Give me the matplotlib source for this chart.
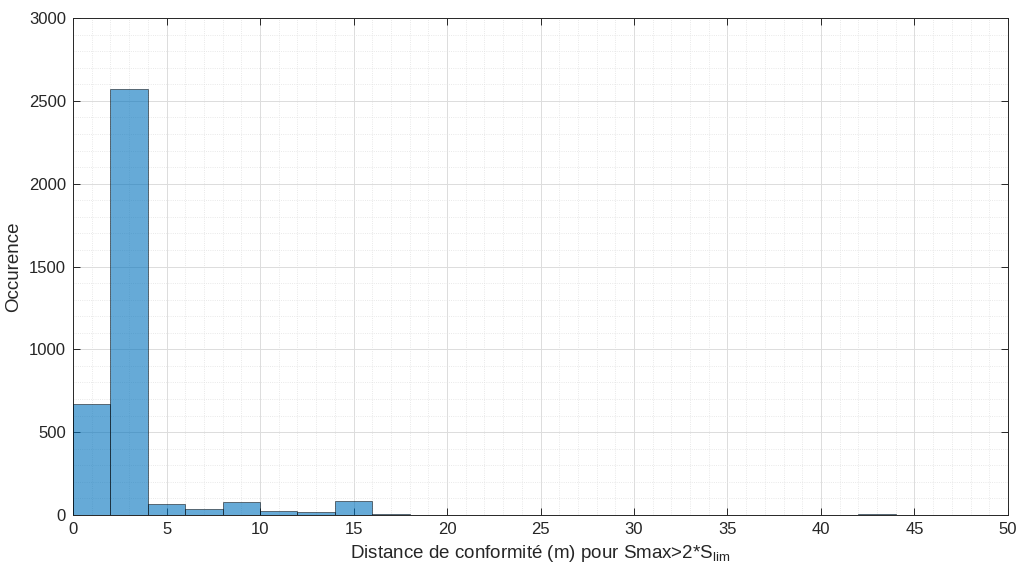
import matplotlib.pyplot as plt
import numpy as np
from matplotlib.ticker import MultipleLocator

# histogram counts, bin width 2 from 0 to 50
bin_edges = np.arange(0, 52, 2)
counts = [670, 2572, 66, 36, 77, 22, 20, 86, 9, 0, 0, 0, 0, 3, 3,
          0, 0, 0, 0, 0, 0, 5, 0, 0, 0]

plt.rcParams['font.family'] = 'Liberation Sans'
plt.rcParams['mathtext.fontset'] = 'custom'
plt.rcParams['mathtext.rm'] = 'Liberation Sans'
plt.rcParams['mathtext.it'] = 'Liberation Sans'

dark = '#262626'

fig = plt.figure(figsize=(10.23, 5.71), dpi=100)
ax = fig.add_axes([0.0714, 0.098, 0.9139, 0.8705])

ax.bar(bin_edges[:-1], counts, width=2, align='edge',
       color=(0, 0.447, 0.741, 0.6), edgecolor=(0, 0, 0, 0.6), linewidth=0.6,
       zorder=3)

ax.set_xlim(0, 50)
ax.set_ylim(0, 3000)
ax.xaxis.set_major_locator(MultipleLocator(5))
ax.xaxis.set_minor_locator(MultipleLocator(1))
ax.yaxis.set_major_locator(MultipleLocator(500))
ax.yaxis.set_minor_locator(MultipleLocator(100))

ax.grid(True, which='major', color='#dcdcdc', linewidth=0.7, zorder=0)
ax.grid(True, which='minor', color='#e2e2e2', linewidth=0.6, linestyle=':', zorder=0)
ax.set_axisbelow(True)

ax.tick_params(which='major', direction='in', length=5, width=0.7, colors=dark,
               labelsize=12, top=True, right=True, pad=5)
ax.tick_params(which='minor', length=0)
for s in ax.spines.values():
    s.set_color(dark)
    s.set_linewidth(0.7)

ax.set_xlabel(r'Distance de conformité (m) pour Smax>2*S$_{\mathrm{lim}}$',
              fontsize=13.5, color=dark, labelpad=4)
ax.set_ylabel('Occurence', fontsize=13.5, color=dark, labelpad=5)

fig.savefig('out.png', dpi=100)
